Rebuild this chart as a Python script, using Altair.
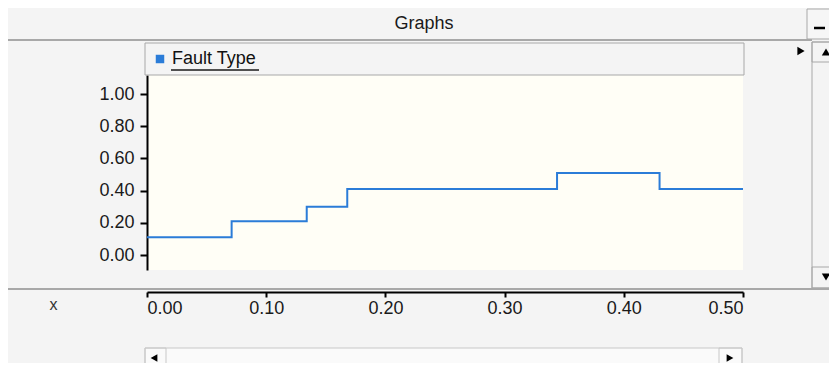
import altair as alt
import pandas as pd

# ---- data ----
x_vals = [0.0, 0.071, 0.134, 0.168, 0.344, 0.430, 0.500]
y_vals = [0.11, 0.21, 0.30, 0.41, 0.51, 0.41, 0.41]
series_name = "Fault Type"
y_ticks = [0.0, 0.2, 0.4, 0.6, 0.8, 1.0]
x_ticks = [0.0, 0.1, 0.2, 0.3, 0.4, 0.5]

df = pd.DataFrame({"x": x_vals, "y": y_vals, "series": [series_name] * len(x_vals)})

FONT = "Liberation Sans"
BLUE = "#2B7CD8"
BORDER = "#A8A8A8"
OX, OY = 147, 75  # plot origin in page pixels
W, H = 596, 195


def px(v):
    return v - OX


def py(v):
    return v - OY


anchor = pd.DataFrame({"a": [0]})


def box(x1, x2, y1, y2, fill="none", stroke=BORDER, sw=1):
    return alt.Chart(anchor).mark_rect(fill=fill, stroke=stroke, strokeWidth=sw).encode(
        x=alt.value(px(x1)), x2=alt.value(px(x2)), y=alt.value(py(y1)), y2=alt.value(py(y2))
    )


def hline(x1, x2, y, color=BORDER, sw=2):
    return alt.Chart(anchor).mark_rule(color=color, strokeWidth=sw).encode(
        x=alt.value(px(x1)), x2=alt.value(px(x2)), y=alt.value(py(y))
    )


def tri(x, y, shape, size=80):
    return alt.Chart(anchor).mark_point(shape=shape, filled=True, color="black", size=size, opacity=1).encode(
        x=alt.value(px(x)), y=alt.value(py(y))
    )


def label(x, y, text, size=18, align="center"):
    return alt.Chart(anchor).mark_text(
        text=text, font=FONT, fontSize=size, color="#1a1a1a", align=align, baseline="middle"
    ).encode(x=alt.value(px(x)), y=alt.value(py(y)))


chrome = [
    # header
    hline(8, 812, 40),
    box(807, 836, 9, 39, fill="#F6F6F6"),
    hline(814, 825, 28, color="black", sw=2.5),
    label(424, 24, "Graphs"),
    # legend box
    box(145, 744, 43, 75),
    tri(801, 51, "triangle-right", 70),
    # vertical scrollbar
    box(812, 836, 42, 288, fill="#F4F4F4"),
    box(812, 836, 42, 62),
    box(812, 836, 267, 288),
    tri(826, 52, "triangle-up", 70),
    tri(826, 277, "triangle-down", 70),
    # divider
    hline(8, 836, 289),
    # horizontal scrollbar
    box(145, 742, 348, 368, fill="#FAFAFA", stroke="#C8C8C8"),
    box(145, 166, 348, 368, stroke="#C8C8C8"),
    box(719, 742, 348, 368, stroke="#C8C8C8"),
    tri(154, 358, "triangle-left", 60),
    tri(730, 358, "triangle-right", 60),
    # legend underline
    hline(171, 259, 70, color="#1a1a1a", sw=1.5),
]

line = alt.Chart(df).mark_line(interpolate="step-after", strokeWidth=2).encode(
    x=alt.X(
        "x:Q",
        scale=alt.Scale(domain=[0, 0.5], nice=False, zero=False),
        axis=alt.Axis(
            values=x_ticks, format=".2f", offset=22, title="x",
            titleX=px(53), titleY=12, titleAlign="center", titleBaseline="middle",
            titleFontWeight="normal", titleFontSize=16, titleFont=FONT, titleColor="#333333",
            tickSize=5, labelPadding=2,
        ),
    ),
    y=alt.Y(
        "y:Q",
        scale=alt.Scale(domain=[-0.093, 1.118], nice=False, zero=False),
        axis=alt.Axis(values=y_ticks, format=".2f", title=None, tickSize=7, labelPadding=6),
    ),
    color=alt.Color(
        "series:N",
        scale=alt.Scale(domain=[series_name], range=[BLUE]),
        legend=alt.Legend(
            orient="none", legendX=4, legendY=-25, title=None, symbolType="square",
            symbolSize=72, symbolStrokeWidth=0, symbolFillColor=BLUE, symbolOpacity=1,
            labelFont=FONT, labelFontSize=18,
            labelColor="#111111", labelOffset=3, padding=0,
        ),
    ),
)

chart = alt.layer(*chrome, line).properties(
    width=W, height=H,
    autosize=alt.AutoSizeParams(type="none"),
    padding={"left": OX - 8, "top": OY - 8, "right": 829 - (OX + W), "bottom": 363 - (OY + H)},
    background="#F4F4F4",
).configure_view(
    fill="#FFFEF6", stroke=None
).configure_axis(
    grid=False, domainColor="black", domainWidth=2, tickColor="black", tickWidth=2,
    labelFont=FONT, labelFontSize=18, labelColor="#1a1a1a",
)

chart.save("out.html", embed_options={"renderer": "svg", "actions": False})
